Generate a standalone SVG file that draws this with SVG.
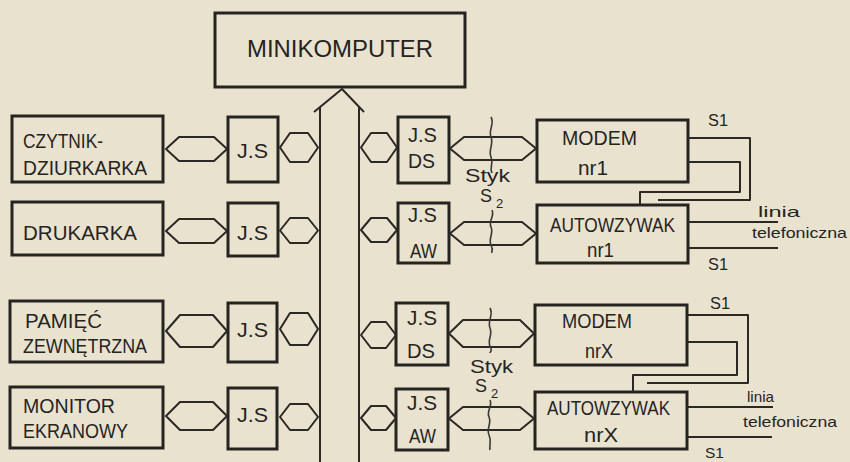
<svg xmlns="http://www.w3.org/2000/svg" width="850" height="462" viewBox="0 0 850 462">
<style>
.bg{fill:#e8e2cf}
.box{fill:none;stroke:#262421;stroke-width:3}
.ln{fill:none;stroke:#2b2926;stroke-width:2;stroke-linejoin:round}
.lt{fill:none;stroke:#3a3834;stroke-width:1.6}
.t{font-family:"Liberation Sans",Arial,sans-serif;font-size:20px;fill:#26241f}
.s{font-family:"Liberation Sans",Arial,sans-serif;font-size:15px;fill:#26241f}
</style>
<rect class="bg" x="0" y="0" width="850" height="462"/>

<g id="minikomputer">
<rect class="box" x="215" y="13" width="250" height="74"/>
<text class="t" x="247" y="57" style="font-size:24px" textLength="186" lengthAdjust="spacingAndGlyphs">MINIKOMPUTER</text>
</g>

<g id="czytnik">
<rect class="box" x="12" y="116" width="151" height="66"/>
<text class="t" x="23" y="148" textLength="80" lengthAdjust="spacingAndGlyphs">CZYTNIK-</text>
<text class="t" x="23" y="175" textLength="124" lengthAdjust="spacingAndGlyphs">DZIURKARKA</text>
</g>
<g id="js1">
<rect class="box" x="228" y="117" width="50" height="65"/>
<text class="t" x="237" y="158" textLength="31" lengthAdjust="spacingAndGlyphs">J.S</text>
</g>

<g id="drukarka">
<rect class="box" x="12" y="202" width="151" height="53"/>
<text class="t" x="23" y="240" textLength="114" lengthAdjust="spacingAndGlyphs">DRUKARKA</text>
</g>
<g id="js2">
<rect class="box" x="228" y="203" width="50" height="53"/>
<text class="t" x="237" y="240" textLength="31" lengthAdjust="spacingAndGlyphs">J.S</text>
</g>

<g id="pamiec">
<rect class="box" x="10" y="301" width="153" height="61"/>
<text class="t" x="25" y="328" textLength="77" lengthAdjust="spacingAndGlyphs">PAMIĘĆ</text>
<text class="t" x="23" y="353" textLength="124" lengthAdjust="spacingAndGlyphs">ZEWNĘTRZNA</text>
</g>
<g id="js3">
<rect class="box" x="228" y="303" width="49" height="59"/>
<text class="t" x="237" y="337" textLength="31" lengthAdjust="spacingAndGlyphs">J.S</text>
</g>

<g id="monitor">
<rect class="box" x="10" y="387" width="153" height="61"/>
<text class="t" x="23" y="413" textLength="92" lengthAdjust="spacingAndGlyphs">MONITOR</text>
<text class="t" x="23" y="438" textLength="105" lengthAdjust="spacingAndGlyphs">EKRANOWY</text>
</g>
<g id="js4">
<rect class="box" x="228" y="388" width="49" height="61"/>
<text class="t" x="237" y="422" textLength="31" lengthAdjust="spacingAndGlyphs">J.S</text>
</g>

<g id="jsds1">
<rect class="box" x="398" y="117" width="51" height="66"/>
<text class="t" x="408" y="142" textLength="29" lengthAdjust="spacingAndGlyphs">J.S</text>
<text class="t" x="408" y="168" textLength="27" lengthAdjust="spacingAndGlyphs">DS</text>
</g>
<g id="jsaw1">
<rect class="box" x="398" y="203" width="51" height="60"/>
<text class="t" x="408" y="222" textLength="29" lengthAdjust="spacingAndGlyphs">J.S</text>
<text class="t" x="410" y="258" textLength="27" lengthAdjust="spacingAndGlyphs">AW</text>
</g>
<g id="modem1">
<rect class="box" x="537" y="120" width="151" height="62"/>
<text class="t" x="562" y="145" textLength="75" lengthAdjust="spacingAndGlyphs">MODEM</text>
<text class="t" x="578" y="175" textLength="30" lengthAdjust="spacingAndGlyphs">nr1</text>
</g>
<g id="autowzywak1">
<rect class="box" x="537" y="205" width="151" height="58"/>
<text class="t" x="550" y="232" textLength="125" lengthAdjust="spacingAndGlyphs">AUTOWZYWAK</text>
<text class="t" x="587" y="257" textLength="27" lengthAdjust="spacingAndGlyphs">nr1</text>
</g>

<g id="jsdsx">
<rect class="box" x="396" y="303" width="52" height="62"/>
<text class="t" x="407" y="325" textLength="30" lengthAdjust="spacingAndGlyphs">J.S</text>
<text class="t" x="407" y="358" textLength="28" lengthAdjust="spacingAndGlyphs">DS</text>
</g>
<g id="jsawx">
<rect class="box" x="396" y="389" width="52" height="61"/>
<text class="t" x="407" y="410" textLength="30" lengthAdjust="spacingAndGlyphs">J.S</text>
<text class="t" x="409" y="443" textLength="27" lengthAdjust="spacingAndGlyphs">AW</text>
</g>
<g id="modemx">
<rect class="box" x="535" y="305" width="152" height="60"/>
<text class="t" x="562" y="328" textLength="70" lengthAdjust="spacingAndGlyphs">MODEM</text>
<text class="t" x="585" y="358" textLength="28" lengthAdjust="spacingAndGlyphs">nrX</text>
</g>
<g id="autowzywakx">
<rect class="box" x="535" y="392" width="152" height="57"/>
<text class="t" x="547" y="415" textLength="123" lengthAdjust="spacingAndGlyphs">AUTOWZYWAK</text>
<text class="t" x="584" y="442" textLength="34" lengthAdjust="spacingAndGlyphs">nrX</text>
</g>

<g id="connectors">
<path class="ln" d="M314,112 L342,89 L364,112"/>
<path class="ln" d="M320,107 V462 M359,107 V462"/>
<polygon class="ln" points="166,149 179,137 214,137 227,149 214,161 179,161"/>
<polygon class="ln" points="280,147.5 290,133 308,133 318,147.5 308,162 290,162"/>
<polygon class="ln" points="166,231 179,219 214,219 227,231 214,243 179,243"/>
<polygon class="ln" points="280,230.5 290,218 308,218 318,230.5 308,243 290,243"/>
<polygon class="ln" points="166,331 180,315 213,315 227,331 213,347 180,347"/>
<polygon class="ln" points="280,329 290,313 308,313 318,329 308,345 290,345"/>
<polygon class="ln" points="166,416 180,402 213,402 227,416 213,430 180,430"/>
<polygon class="ln" points="280,417 290,404 308,404 318,417 308,430 290,430"/>
<polygon class="ln" points="361,147.5 371,133 387,133 397,147.5 387,162 371,162"/>
<polygon class="ln" points="450,148.5 464,137 522,137 536,148.5 522,160 464,160"/>
<polygon class="ln" points="361,230 371,218 387,218 397,230 387,242 371,242"/>
<polygon class="ln" points="450,233.5 464,222 522,222 536,233.5 522,245 464,245"/>
<polygon class="ln" points="361,335 371,322 386,322 396,335 386,348 371,348"/>
<polygon class="ln" points="449,333.5 463,320 520,320 534,333.5 520,347 463,347"/>
<polygon class="ln" points="361,418 371,406 386,406 396,418 386,430 371,430"/>
<polygon class="ln" points="449,418.5 463,407 520,407 534,418.5 520,430 463,430"/>
<path class="lt" d="M491,117 c4,7 -3,13 0,20 s-3,13 0,20 s-2,10 1,16"/>
<path class="lt" d="M492,210 c3,6 -4,11 -1,17 s-3,12 0,18 s0,6 1,8"/>
<path class="lt" d="M490,308 c4,7 -3,13 0,20 s-3,12 0,18 s0,5 0,7"/>
<path class="lt" d="M490,400 c3,6 -4,11 -1,17 s-3,12 0,18 s0,10 1,15"/>
<path class="ln" d="M688,138 H750 V200 H658"/>
<path class="ln" d="M688,162 H740 V192 H640 V205"/>
<path class="ln" d="M687,315 H748 V383 H647"/>
<path class="ln" d="M687,342 H737 V375 H633 V392"/>
<path class="ln" d="M688,222 H778 M688,248 H778"/>
<path class="ln" d="M687,407 H773 M687,437 H772"/>
</g>

<g id="labels">
<text class="t" x="465" y="182" style="font-size:19px" textLength="45" lengthAdjust="spacingAndGlyphs">Styk</text>
<text class="t" x="480" y="202" style="font-size:18px">S</text>
<text class="t" x="496" y="208" style="font-size:13px">2</text>
<text class="t" x="470" y="373" style="font-size:19px" textLength="43" lengthAdjust="spacingAndGlyphs">Styk</text>
<text class="t" x="475" y="392" style="font-size:18px">S</text>
<text class="t" x="491" y="398" style="font-size:13px">2</text>
<text class="t" x="708" y="126" style="font-size:16px" textLength="20" lengthAdjust="spacingAndGlyphs">S1</text>
<text class="t" x="708" y="270" style="font-size:17px" textLength="20" lengthAdjust="spacingAndGlyphs">S1</text>
<text class="t" x="710" y="309" style="font-size:16px" textLength="20" lengthAdjust="spacingAndGlyphs">S1</text>
<text class="t" x="705" y="458" style="font-size:15px" textLength="19" lengthAdjust="spacingAndGlyphs">S1</text>
<text class="s" x="758" y="217" textLength="42" lengthAdjust="spacingAndGlyphs">linia</text>
<text class="s" x="752" y="238" textLength="95" lengthAdjust="spacingAndGlyphs">telefoniczna</text>
<text class="s" x="747" y="402" textLength="27" lengthAdjust="spacingAndGlyphs">linia</text>
<text class="s" x="743" y="427" textLength="94" lengthAdjust="spacingAndGlyphs">telefoniczna</text>
</g>
</svg>
